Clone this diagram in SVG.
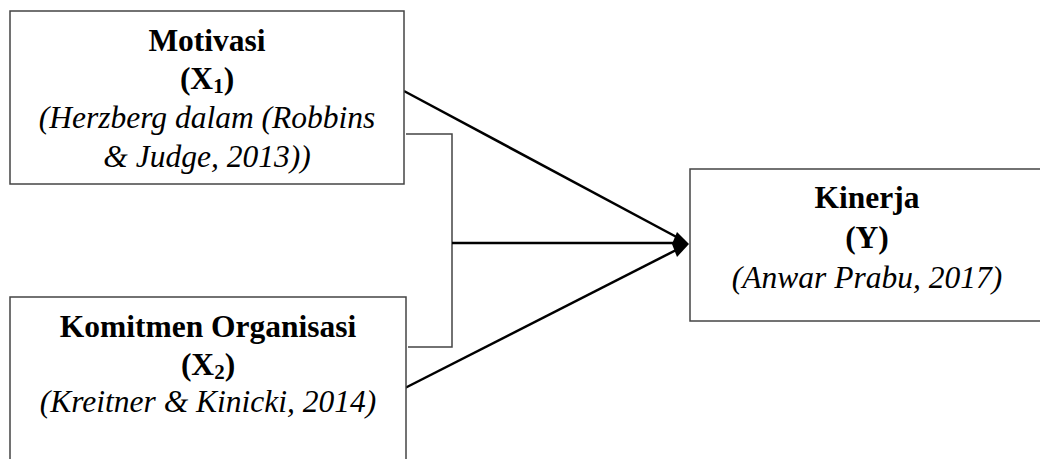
<svg xmlns="http://www.w3.org/2000/svg" width="1040" height="459" viewBox="0 0 1040 459">
<style>
.box{fill:#fff;stroke:#444;stroke-width:1.5}
.t{font-family:"Liberation Serif","Times New Roman",serif;font-size:31.5px;fill:#000;text-anchor:middle}
.b{font-weight:bold}
.i{font-style:italic}
.sub{font-size:21px}
.main{stroke:#000;stroke-width:2.5;fill:none}
.thin{stroke:#444;stroke-width:1.5;fill:none}
</style>
<g id="connectors">
<polyline class="thin" points="406,134 452,134 452,347 408,347"/>
<line class="main" x1="404" y1="91" x2="684" y2="241"/>
<line class="main" x1="452" y1="243" x2="684" y2="243"/>
<line class="main" x1="405" y1="388" x2="684" y2="246"/>
<polygon points="689,244 677,232 672,244 677,257" fill="#000"/>
</g>
<g id="motivasi">
<rect class="box" x="10" y="11" width="394" height="173"/>
<text class="t b" x="207" y="51">Motivasi</text>
<text class="t b" x="207" y="89">(X<tspan class="sub" dy="4">1</tspan><tspan dy="-4">)</tspan></text>
<text class="t i" x="207" y="128">(Herzberg dalam (Robbins</text>
<text class="t i" x="207" y="167">&amp; Judge, 2013))</text>
</g>
<g id="komitmen">
<rect class="box" x="10" y="297" width="396" height="175"/>
<text class="t b" x="208" y="337">Komitmen Organisasi</text>
<text class="t b" x="208" y="375">(X<tspan class="sub" dy="4">2</tspan><tspan dy="-4">)</tspan></text>
<text class="t i" x="208" y="412">(Kreitner &amp; Kinicki, 2014)</text>
</g>
<g id="kinerja">
<rect class="box" x="690" y="169" width="354" height="152"/>
<text class="t b" x="867" y="208">Kinerja</text>
<text class="t b" x="867" y="248">(Y)</text>
<text class="t i" x="867" y="288">(Anwar Prabu, 2017)</text>
</g>
</svg>
